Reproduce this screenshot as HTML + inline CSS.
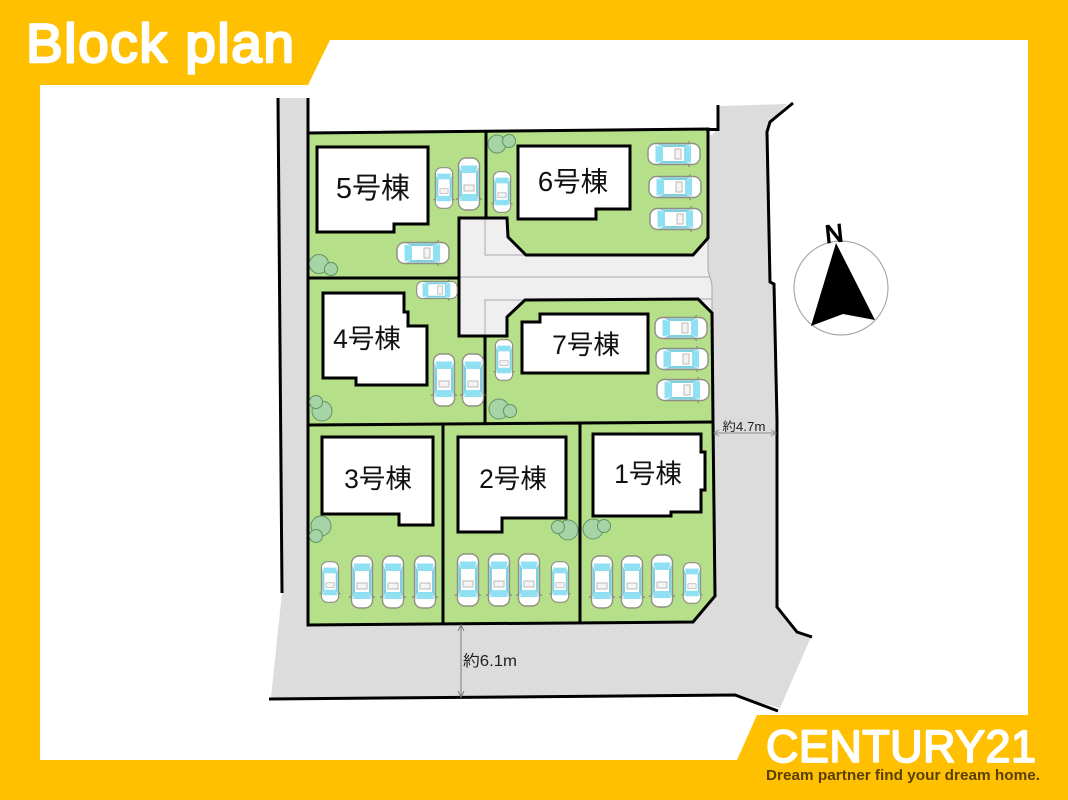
<!DOCTYPE html>
<html lang="ja">
<head>
<meta charset="utf-8">
<title>Block plan</title>
<style>
html,body{margin:0;padding:0;background:#fec000;}
svg{display:block;}
text{font-family:"Liberation Sans","Noto Sans CJK JP",sans-serif;}
.b{fill:#fff;stroke:#000;stroke-width:3;stroke-linejoin:miter;}
.l{font-size:26.5px;fill:#111;text-anchor:middle;}
.k{fill:none;stroke:#000;stroke-width:3;}
.t{fill:#a6d4a6;stroke:#5f9468;stroke-width:1;}
.g{fill:none;stroke:#a8a8a8;stroke-width:1;}
</style>
</head>
<body>
<svg width="1068" height="800" viewBox="0 0 1068 800" xmlns="http://www.w3.org/2000/svg">
<defs>
<g id="car">
  <path d="M-10,14 L-13,15.5 M10,14 L13,15.5" stroke="#666" stroke-width="0.8" fill="none"/>
  <rect x="-10.5" y="-26" width="21" height="52" rx="7.5" fill="#fff" stroke="#8f8f84" stroke-width="1.4"/>
  <path d="M-8.5,-18.5 H8.5 L7,-11 H-7 Z" fill="#8fe0f2"/>
  <path d="M-7,10 H7 L9,17 H-9 Z" fill="#8fe0f2"/>
  <path d="M-9.5,-17 L-7,-11 L-7,10 L-9.5,16 Z M9.5,-17 L7,-11 L7,10 L9.5,16 Z" fill="#7fd0e0"/>
  <rect x="-5" y="1" width="10" height="6" fill="#f4f4f4" stroke="#b0a8a8" stroke-width="0.8"/>
</g>
</defs>

<!-- white panel -->
<polygon fill="#fff" points="40,85 308,85 330,40 1028,40 1028,715 757,715 737,760 40,760"/>

<!-- roads -->
<polygon fill="#dcdcdc" points="279,98 308,98 308,135 712,135 718,128 720,106 787,104 770,122 767,132 770,282 775,284 777,607 797,632 811,637 780,708 735,696 269,699 271,697 282,593"/>

<!-- lots -->
<polygon fill="#b5df88" points="308,133 708,129 708,238 693,255 526,255 508,237 507,218 459,218 459,336 507,336 507,317 525,300 698,299 712,313 713,422 715,596 693,622 308,625"/>

<!-- private road -->
<polygon fill="#efefef" points="459,218 507,218 508,237 526,255 693,255 708,238 708,270 712,285 712,313 698,299 525,300 507,317 507,336 459,336"/>
<path class="g" d="M485,218 V255 H526 M459,277 H710 M485,336 V300 H525 M698,299 H712 M708,238 V270 L712,285 V313"/>

<!-- road and lot outlines -->
<path class="k" d="M278,98 L282,593"/>
<path class="k" d="M308,98 V133"/>
<path class="k" d="M718,105 V129.500 H706"/>
<path class="k" d="M793,103 L770,122 L767,132 L770,282 L774,284 L777,420 L777,607 L797,632 L812,637"/>
<path class="k" d="M269,699 L735,695 L778,711"/>
<polygon class="k" stroke-linejoin="miter" points="308,133 708,129 708,238 693,255 526,255 508,237 507,218 459,218 459,336 507,336 507,317 525,300 698,299 712,313 713,422 715,596 693,622 308,625"/>
<path class="k" d="M308,278 H459 M486,131 V218 M308,425 L713,422 M485,336 V423 M443,424 V624 M580,423 V622"/>

<!-- trees -->
<circle class="t" cx="497" cy="144" r="9"/><circle class="t" cx="509" cy="141" r="6.500"/>
<circle class="t" cx="319" cy="264" r="9.500"/><circle class="t" cx="331" cy="269" r="6.500"/>
<circle class="t" cx="322" cy="411" r="10"/><circle class="t" cx="316" cy="402" r="6.500"/>
<circle class="t" cx="499" cy="409" r="10"/><circle class="t" cx="510" cy="411" r="6.500"/>
<circle class="t" cx="321" cy="526" r="10"/><circle class="t" cx="316" cy="536" r="6.500"/>
<circle class="t" cx="568" cy="530" r="10"/><circle class="t" cx="558" cy="527" r="6.500"/>
<circle class="t" cx="593" cy="529" r="10"/><circle class="t" cx="604" cy="526" r="6.500"/>

<!-- buildings -->
<polygon class="b" points="317,147 428,147 428,224 394,224 394,232 317,232"/>
<polygon class="b" points="518,146 630,146 630,209 596,209 596,219 518,219"/>
<polygon class="b" points="323,293 404,293 404,312 408,312 408,326 427,326 427,385 356,385 356,378 323,378"/>
<polygon class="b" points="522,322 540,322 540,314 648,314 648,373 522,373"/>
<polygon class="b" points="322,437 433,437 433,525 399,525 399,514 322,514"/>
<polygon class="b" points="458,437 566,437 566,518 502,518 502,532 458,532"/>
<polygon class="b" points="593,434 701,434 701,452 705,452 705,490 701,490 701,512 671,512 671,516 593,516"/>

<!-- building labels -->
<text class="l" x="373" y="198" style="font-size:29px">5号棟</text>
<text class="l" x="573" y="191" style="font-size:27.5px">6号棟</text>
<text class="l" x="367" y="348">4号棟</text>
<text class="l" x="586" y="354">7号棟</text>
<text class="l" x="378" y="488">3号棟</text>
<text class="l" x="513" y="488">2号棟</text>
<text class="l" x="648" y="483">1号棟</text>

<!-- vertical cars -->
<use href="#car" transform="translate(444,188) scale(.82,.78)"/>
<use href="#car" transform="translate(469,184)"/>
<use href="#car" transform="translate(502,192) scale(.82,.78)"/>
<use href="#car" transform="translate(444,380)"/>
<use href="#car" transform="translate(473,380)"/>
<use href="#car" transform="translate(504,360) scale(.82,.78)"/>
<use href="#car" transform="translate(330,582) scale(.82,.78)"/>
<use href="#car" transform="translate(362,582)"/>
<use href="#car" transform="translate(393,582)"/>
<use href="#car" transform="translate(425,582)"/>
<use href="#car" transform="translate(468,580)"/>
<use href="#car" transform="translate(499,580)"/>
<use href="#car" transform="translate(529,580)"/>
<use href="#car" transform="translate(560,582) scale(.82,.78)"/>
<use href="#car" transform="translate(602,582)"/>
<use href="#car" transform="translate(632,582)"/>
<use href="#car" transform="translate(662,581)"/>
<use href="#car" transform="translate(692,583) scale(.82,.78)"/>

<!-- horizontal cars -->
<use href="#car" transform="translate(423,253) rotate(-90)"/>
<use href="#car" transform="translate(674,154) rotate(-90)"/>
<use href="#car" transform="translate(675,187) rotate(-90)"/>
<use href="#car" transform="translate(676,219) rotate(-90)"/>
<use href="#car" transform="translate(437,290) rotate(-90) scale(.82,.78)"/>
<use href="#car" transform="translate(681,328) rotate(-90)"/>
<use href="#car" transform="translate(682,359) rotate(-90)"/>
<use href="#car" transform="translate(683,390) rotate(-90)"/>

<!-- dimensions -->
<path d="M714,433 H776 M719,430 L714,433 L719,436 M771,430 L776,433 L771,436" fill="none" stroke="#8c8c8c" stroke-width="1"/>
<text x="744" y="431" text-anchor="middle" font-size="12.5" fill="#222" textLength="43" lengthAdjust="spacingAndGlyphs">約4.7m</text>
<path d="M461,625 V697 M458,631 L461,625 L464,631 M458,691 L461,697 L464,691" fill="none" stroke="#7c7c7c" stroke-width="1"/>
<text x="463" y="666" font-size="15.5" fill="#222" textLength="54" lengthAdjust="spacingAndGlyphs">約6.1m</text>

<!-- compass -->
<circle cx="841" cy="288" r="47" fill="#fff" stroke="#aaa" stroke-width="1.2"/>
<polygon points="836,243 875,320 843,314 811,326" fill="#000"/>
<text x="835" y="242" text-anchor="middle" font-size="25" fill="#000" stroke="#000" stroke-width="1.2" transform="rotate(-6 835 242)">N</text>

<!-- heading -->
<text x="26" y="62" font-size="55" font-weight="400" fill="#fff" stroke="#fff" stroke-width="2.5" stroke-linejoin="round" textLength="268" lengthAdjust="spacing">Block plan</text>

<!-- logo -->
<text x="766" y="762" font-size="45" font-weight="400" fill="#fff" stroke="#fff" stroke-width="1.8" stroke-linejoin="round" textLength="270" lengthAdjust="spacing">CENTURY21</text>
<text x="766" y="780" font-size="14.5" font-weight="700" fill="#5a3f05" textLength="274" lengthAdjust="spacingAndGlyphs">Dream partner find your dream home.</text>
</svg>
</body>
</html>
